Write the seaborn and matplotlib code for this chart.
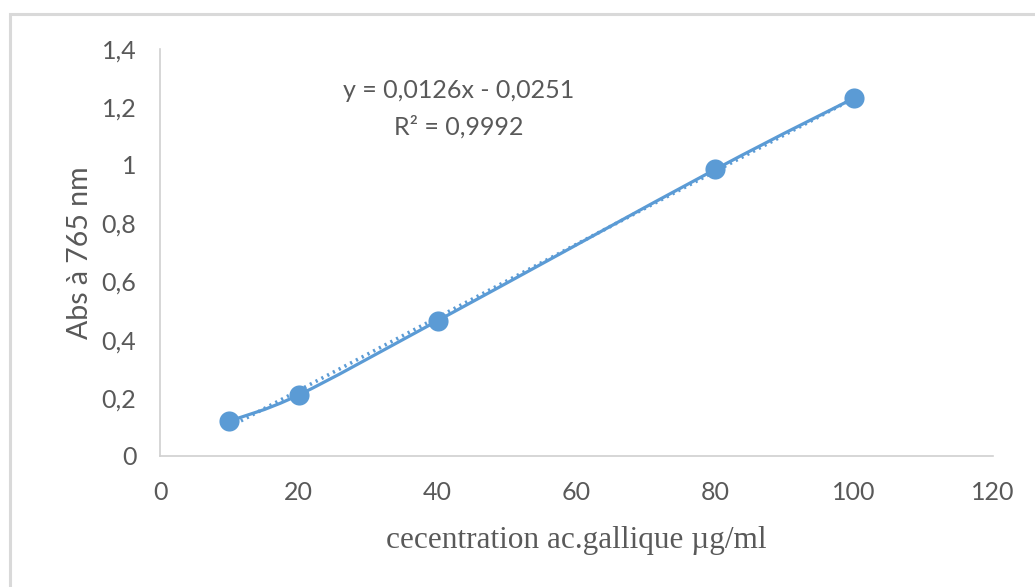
import numpy as np
import matplotlib
matplotlib.use("Agg")
import matplotlib.pyplot as plt
from matplotlib.path import Path
from matplotlib.patches import PathPatch, Rectangle
import seaborn as sns
import pandas as pd

# données
concentration = [10, 20, 40, 80, 100]
absorbance = [0.12, 0.21, 0.465, 0.985, 1.23]
equation_text = "y = 0,0126x - 0,0251"
r2_text = "R² = 0,9992"
x_ticks = [0, 20, 40, 60, 80, 100, 120]
y_ticks = [0, 0.2, 0.4, 0.6, 0.8, 1.0, 1.2, 1.4]

blue = "#5B9BD5"
grey_txt = "#595959"
grey_axis = "#d0d0d0"

sns.set_style("white")
plt.rcParams['font.family'] = ['Lato', 'DejaVu Sans']

df = pd.DataFrame({"x": concentration, "y": absorbance})

fig = plt.figure(figsize=(10.35, 5.87), dpi=100)
ax = fig.add_axes([0.1546, 0.2232, 0.8048, 0.6940])

# courbe de tendance linéaire (pointillés)
sns.regplot(data=df, x="x", y="y", ax=ax, scatter=False, ci=None, truncate=True,
            line_kws=dict(color=blue, lw=2.6, linestyle=(0, (0.6, 1.2))))

# ligne lissée façon Excel (Catmull-Rom -> Bézier)
pts = np.column_stack([concentration, absorbance]).astype(float)
ext = np.vstack([pts[0], pts, pts[-1]])
verts = [tuple(pts[0])]
codes = [Path.MOVETO]
for i in range(1, len(ext) - 2):
    p0, p1, p2, p3 = ext[i - 1], ext[i], ext[i + 1], ext[i + 2]
    c1 = p1 + (p2 - p0) / 6
    c2 = p2 - (p3 - p1) / 6
    verts += [tuple(c1), tuple(c2), tuple(p2)]
    codes += [Path.CURVE4] * 3
ax.add_patch(PathPatch(Path(verts, codes), fill=False, edgecolor=blue, lw=2.3,
                       capstyle="round", zorder=3))

sns.scatterplot(data=df, x="x", y="y", ax=ax, color=blue, s=210, edgecolor=blue,
                linewidth=0, zorder=4)

ax.text(459 / 1035, 1 - 91 / 587, equation_text, transform=fig.transFigure,
        ha="center", va="center", fontsize=18, color=grey_txt)
ax.text(459 / 1035, 1 - 127 / 587, r2_text, transform=fig.transFigure,
        ha="center", va="center", fontsize=18, color=grey_txt)

ax.set_xlim(0, 120)
ax.set_ylim(0, 1.4)
ax.set_xticks(x_ticks)
ax.set_yticks(y_ticks)
ax.set_xticklabels([str(v) for v in x_ticks])
ax.set_yticklabels([("%g" % v).replace(".", ",") for v in y_ticks])
ax.tick_params(axis="both", labelsize=18, colors=grey_txt, length=5, width=1.2,
               color=grey_axis, direction="out")
ax.tick_params(axis="x", pad=13)
ax.tick_params(axis="y", pad=12)

for s in ["top", "right"]:
    ax.spines[s].set_visible(False)
for s in ["left", "bottom"]:
    ax.spines[s].set_color(grey_axis)
    ax.spines[s].set_linewidth(1.2)

ax.set_xlabel("cecentration ac.gallique µg/ml", family=["Liberation Serif"],
              fontsize=22.5, color=grey_txt, labelpad=16)
ax.set_ylabel("Abs à 765 nm", fontsize=20.5, color=grey_txt, labelpad=6)

# cadre gris du graphique
fig.add_artist(Rectangle((10 / 1035, -0.05), 1.2, 1 - 14 / 587 + 0.05,
                         transform=fig.transFigure, fill=False,
                         edgecolor="#d9d9d9", lw=2.2))

fig.savefig("out.png", dpi=100)
